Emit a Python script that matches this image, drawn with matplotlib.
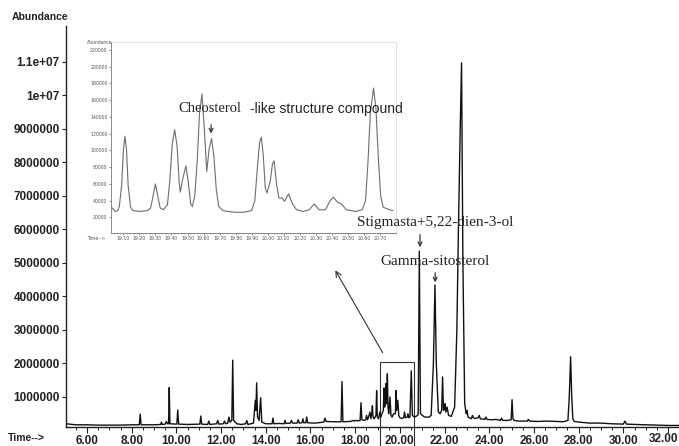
import matplotlib
matplotlib.use("Agg")
import matplotlib.pyplot as plt
from matplotlib.patches import Rectangle
from matplotlib.ticker import MultipleLocator, FixedLocator

# ---------------- data ----------------
# main total-ion chromatogram: retention time (min) / abundance
rt = [5.06, 5.5, 6.0, 6.5, 7.0, 7.5, 8.0,
      8.34, 8.38, 8.42, 9.0, 9.3, 9.33, 9.36, 9.5, 9.55, 9.6, 9.65, 9.68, 9.71,
      10.02, 10.06, 10.10, 10.5, 11.05, 11.09, 11.13, 11.4, 11.45, 11.5, 11.8, 11.85, 11.9,
      12.1, 12.15, 12.2, 12.3, 12.35, 12.4, 12.48, 12.52, 12.56, 12.7, 12.9, 13.1, 13.15, 13.2,
      13.45, 13.53, 13.56, 13.59, 13.63, 13.7, 13.77, 13.82, 14.0, 14.28, 14.32, 14.36, 14.6,
      14.82, 14.86, 14.9, 15.1, 15.15, 15.2, 15.4, 15.45, 15.5, 15.62, 15.66, 15.7, 15.79, 15.83, 15.87,
      16.2, 16.6, 16.65, 16.7, 17.0, 17.37, 17.41, 17.45, 17.8, 17.9, 17.95, 18.0, 18.1,
      18.22, 18.26, 18.3, 18.4, 18.47, 18.51, 18.55, 18.6, 18.66, 18.7, 18.74, 18.77, 18.8, 18.85,
      18.93, 18.96, 18.99, 19.05, 19.1, 19.15, 19.2, 19.26, 19.29, 19.32, 19.35, 19.38, 19.41,
      19.44, 19.47, 19.5, 19.56, 19.6, 19.65, 19.72, 19.8, 19.83, 19.86, 19.91, 19.95, 20.0,
      20.1, 20.17, 20.21, 20.25, 20.33, 20.36, 20.4, 20.45, 20.51, 20.56, 20.65, 20.8,
      20.82, 20.87, 20.92, 21.1, 21.3, 21.4, 21.5, 21.57, 21.63, 21.72, 21.8, 21.87, 21.91, 21.95,
      22.0, 22.02, 22.06, 22.11, 22.18, 22.3, 22.45, 22.55, 22.62, 22.7, 22.76, 22.82, 22.9,
      22.97, 23.0, 23.05, 23.2, 23.25, 23.29, 23.35, 23.5, 23.55, 23.6, 23.8, 23.85, 23.9,
      24.1, 24.3, 24.5, 24.55, 24.6, 24.8, 24.98, 25.02, 25.06, 25.12, 25.3, 25.7, 25.75, 25.8,
      26.2, 26.5, 27.0, 27.3, 27.52, 27.58, 27.64, 27.69, 27.74, 27.8, 28.0, 28.5, 29.0,
      29.5, 30.0, 30.07, 30.14, 30.5, 31.0, 31.5, 32.0, 32.5]
abundance = [0.20e6, 0.17e6, 0.17e6, 0.16e6, 0.16e6, 0.16e6, 0.17e6,
             0.17e6, 0.49e6, 0.17e6, 0.17e6, 0.18e6, 0.25e6, 0.18e6, 0.19e6, 0.27e6, 0.20e6, 0.20e6, 1.28e6, 0.20e6,
             0.19e6, 0.61e6, 0.19e6, 0.18e6, 0.19e6, 0.43e6, 0.19e6, 0.18e6, 0.28e6, 0.18e6, 0.20e6, 0.30e6, 0.19e6,
             0.20e6, 0.28e6, 0.20e6, 0.22e6, 0.40e6, 0.25e6, 0.30e6, 2.10e6, 0.30e6, 0.20e6, 0.18e6, 0.20e6, 0.30e6, 0.18e6,
             0.22e6, 0.90e6, 0.60e6, 1.42e6, 0.40e6, 0.30e6, 0.98e6, 0.25e6, 0.20e6, 0.20e6, 0.37e6, 0.20e6, 0.21e6,
             0.20e6, 0.30e6, 0.21e6, 0.22e6, 0.30e6, 0.22e6, 0.22e6, 0.32e6, 0.22e6, 0.23e6, 0.35e6, 0.23e6, 0.23e6, 0.40e6, 0.23e6,
             0.22e6, 0.25e6, 0.37e6, 0.27e6, 0.26e6, 0.26e6, 1.46e6, 0.26e6, 0.27e6, 0.30e6, 0.28e6, 0.30e6, 0.29e6,
             0.30e6, 0.83e6, 0.32e6, 0.30e6, 0.32e6, 0.45e6, 0.32e6, 0.40e6, 0.55e6, 0.35e6, 0.50e6, 0.74e6, 0.40e6, 0.35e6,
             0.45e6, 1.19e6, 0.40e6, 0.35e6, 0.55e6, 0.40e6, 0.50e6, 0.60e6, 1.27e6, 0.70e6, 0.90e6, 1.40e6, 0.80e6,
             1.69e6, 0.70e6, 0.50e6, 1.00e6, 0.45e6, 0.40e6, 0.50e6, 0.50e6, 1.19e6, 0.60e6, 0.90e6, 0.45e6, 0.38e6,
             0.36e6, 0.38e6, 0.55e6, 0.38e6, 0.40e6, 0.50e6, 0.38e6, 0.40e6, 1.78e6, 0.45e6, 0.40e6, 0.45e6,
             0.50e6, 5.35e6, 0.50e6, 0.40e6, 0.40e6, 0.45e6, 2.00e6, 4.34e6, 2.00e6, 0.55e6, 0.50e6, 0.60e6, 1.60e6, 0.60e6,
             0.65e6, 0.80e6, 0.55e6, 0.70e6, 0.45e6, 0.42e6, 0.70e6, 3.00e6, 6.00e6, 9.00e6, 10.97e6, 5.00e6, 0.80e6,
             0.50e6, 0.60e6, 0.40e6, 0.35e6, 0.45e6, 0.38e6, 0.36e6, 0.38e6, 0.45e6, 0.35e6, 0.33e6, 0.40e6, 0.33e6,
             0.32e6, 0.33e6, 0.30e6, 0.37e6, 0.30e6, 0.30e6, 0.32e6, 0.92e6, 0.35e6, 0.30e6, 0.28e6, 0.28e6, 0.33e6, 0.28e6,
             0.27e6, 0.28e6, 0.27e6, 0.26e6, 0.30e6, 1.00e6, 2.20e6, 1.00e6, 0.35e6, 0.27e6, 0.25e6, 0.22e6, 0.22e6,
             0.20e6, 0.19e6, 0.28e6, 0.19e6, 0.18e6, 0.17e6, 0.16e6, 0.15e6, 0.15e6]

y_tick_values = [1e6, 2e6, 3e6, 4e6, 5e6, 6e6, 7e6, 8e6, 9e6, 1e7, 1.1e7]
y_tick_labels = ["1000000", "2000000", "3000000", "4000000", "5000000", "6000000",
                 "7000000", "8000000", "9000000", "1e+07", "1.1e+07"]
x_tick_values = [6, 8, 10, 12, 14, 16, 18, 20, 22, 24, 26, 28, 30, 32]

# inset (zoom of 19.1-20.7 min)
rt_inset = [19.03, 19.05, 19.065, 19.075, 19.09, 19.10, 19.11, 19.12, 19.13, 19.145,
            19.16, 19.2, 19.25, 19.27, 19.285, 19.30, 19.315, 19.33, 19.35, 19.375,
            19.39, 19.405, 19.42, 19.435, 19.448, 19.455, 19.47, 19.49, 19.505, 19.52,
            19.53, 19.545, 19.56, 19.575, 19.59, 19.605, 19.62, 19.635, 19.65, 19.665,
            19.68, 19.695, 19.72, 19.75, 19.8, 19.85, 19.9, 19.92, 19.935, 19.95,
            19.96, 19.972, 19.985, 19.995, 20.015, 20.03, 20.04, 20.055, 20.07, 20.09,
            20.105, 20.13, 20.155, 20.18, 20.22, 20.26, 20.29, 20.32, 20.36, 20.39,
            20.41, 20.435, 20.46, 20.49, 20.55, 20.59, 20.61, 20.625, 20.64, 20.66,
            20.675, 20.69, 20.705, 20.72, 20.76, 20.78]
abundance_inset = [31000, 27000, 28000, 33000, 60000, 100000, 117000, 100000, 58000, 32000,
                   28000, 27000, 28000, 31000, 45000, 60000, 45000, 31000, 29000, 35000,
                   65000, 108000, 124600, 105000, 62000, 50000, 66000, 81400, 62000, 36000,
                   33000, 45000, 85000, 145000, 167300, 125000, 74600, 102000, 114100, 92000,
                   52000, 33000, 28000, 27000, 26000, 26000, 28000, 40000, 78000, 110000,
                   115800, 95000, 55000, 49000, 62000, 84000, 87400, 60000, 43000, 43000,
                   39000, 48000, 36000, 29000, 27000, 29000, 36000, 29000, 29000, 40000,
                   44000, 38000, 36000, 29000, 27000, 29000, 40000, 85000, 145000, 174500,
                   150000, 90000, 45000, 32000, 29000, 28000]
inset_y_ticks = [20000, 40000, 60000, 80000, 100000, 120000, 140000, 160000, 180000, 200000, 220000]
inset_x_ticks = [19.1, 19.2, 19.3, 19.4, 19.5, 19.6, 19.7, 19.8, 19.9, 20.0,
                 20.1, 20.2, 20.3, 20.4, 20.5, 20.6, 20.7]

# zoom box and annotations
box_start, box_end, box_top = 19.11, 20.64, 2.04e6
stig_rt, stig_label = 20.90, "Stigmasta+5,22-dien-3-ol"
gamma_rt, gamma_label = 21.58, "Gamma-sitosterol"
chol_rt = 19.647

# ---------------- figure ----------------
W, H = 679, 446
fig = plt.figure(figsize=(W / 100, H / 100), dpi=100)
fig.patch.set_facecolor("white")

ax = fig.add_axes([66 / W, 19 / H, 613 / W, 401 / H])
ax.set_zorder(2)
ax.patch.set_visible(False)
ax.plot(rt, abundance, color="#111111", lw=1.0)
ax.set_xlim(5.06, 32.49)
ax.set_ylim(0.104e6, 12.07e6)
for s in ("top", "right"):
    ax.spines[s].set_visible(False)
for s in ("left", "bottom"):
    ax.spines[s].set_linewidth(1.0)
    ax.spines[s].set_color("#222222")

ax.yaxis.set_major_locator(FixedLocator(y_tick_values))
ax.set_yticklabels(y_tick_labels)
ax.xaxis.set_major_locator(FixedLocator(x_tick_values))
x_labels = [f"{v:.2f}" for v in x_tick_values]
ax.set_xticklabels(x_labels[:-1] + [""])
ax.xaxis.set_minor_locator(MultipleLocator(0.5))
ax.tick_params(axis="y", direction="out", length=3, width=0.8, pad=1.5,
               labelsize=8.5, colors="#222222")
ax.tick_params(axis="x", which="major", direction="out", length=4, width=0.8, pad=2,
               labelsize=8.5, colors="#222222")
ax.tick_params(axis="x", which="minor", direction="out", length=2.5, width=0.7, colors="#222222")
for lab in ax.get_xticklabels() + ax.get_yticklabels():
    lab.set_family("Liberation Sans")
    lab.set_fontweight("bold")
# last time label sits against the right edge of the picture
ax.annotate(x_labels[-1], xy=(x_tick_values[-1], 0), xycoords=("data", "axes fraction"),
            xytext=(7.5, -4.5), textcoords="offset points", ha="right", va="top",
            fontsize=8.5, family="Liberation Sans", fontweight="bold", color="#222222",
            annotation_clip=False)

fig.text(12 / W, 1 - 17 / H, "Abundance", fontsize=7.5, family="Liberation Sans",
         fontweight="bold", color="#222222", va="center", ha="left")
fig.text(8 / W, 1 - 438 / H, "Time-->", fontsize=7.5, family="Liberation Sans",
         fontweight="bold", color="#222222", va="center", ha="left")

# zoom box
ax.add_patch(Rectangle((box_start, -0.6e6), box_end - box_start, box_top + 0.6e6,
                       fill=False, edgecolor="#333333", lw=0.8, clip_on=False))
# arrow from box to inset
ax.annotate("", xy=(17.05, 4.85e6), xytext=(19.29, 2.25e6),
            arrowprops=dict(arrowstyle="->", color="#333333", lw=0.8, mutation_scale=10))

# peak annotations
ax.text(gamma_rt, 6.2e6, stig_label, family="Liberation Serif", fontsize=11,
        color="#222222", ha="center", va="center")
ax.annotate("", xy=(stig_rt, 5.39e6), xytext=(stig_rt, 5.93e6),
            arrowprops=dict(arrowstyle="->", color="#222222", lw=0.8, mutation_scale=7))
ax.text(gamma_rt, 5.04e6, gamma_label, family="Liberation Serif", fontsize=11,
        color="#222222", ha="center", va="center")
ax.annotate("", xy=(gamma_rt, 4.34e6), xytext=(gamma_rt, 4.79e6),
            arrowprops=dict(arrowstyle="->", color="#222222", lw=0.8, mutation_scale=7))

# ---------------- inset ----------------
axi = fig.add_axes([111 / W, (H - 233) / H, 285 / W, 191 / H])
axi.set_zorder(1)
axi.set_facecolor("white")
axi.plot(rt_inset, abundance_inset, color="#6e6e6e", lw=0.8)
axi.set_xlim(19.023, 20.80)
axi.set_ylim(1200, 229600)
for s in ("left", "bottom"):
    axi.spines[s].set_color("#8a8a8a")
    axi.spines[s].set_linewidth(0.7)
for s in ("top", "right"):
    axi.spines[s].set_color("#dddddd")
    axi.spines[s].set_linewidth(0.6)
axi.yaxis.set_major_locator(FixedLocator(inset_y_ticks))
axi.set_yticklabels([str(v) for v in inset_y_ticks])
axi.xaxis.set_major_locator(FixedLocator(inset_x_ticks))
axi.set_xticklabels([f"{v:.2f}" for v in inset_x_ticks])
axi.xaxis.set_minor_locator(MultipleLocator(0.02))
axi.tick_params(axis="both", which="major", direction="out", length=1.5, width=0.5,
                pad=1, labelsize=3.3, colors="#555555")
axi.tick_params(axis="x", which="minor", direction="out", length=1, width=0.4, colors="#777777")
fig.text(87 / W, 1 - 43 / H, "Abundance", fontsize=3.3, color="#555555", va="center", ha="left")
fig.text(87 / W, 1 - 238 / H, "Time-->", fontsize=3.3, color="#555555", va="center", ha="left")

axi.text(19.442, 149700, "Cheosterol", family="Liberation Serif", fontsize=10.5,
         color="#222222", ha="left", va="center")
axi.text(19.89, 149700, "-like structure compound", family="Liberation Sans", fontsize=10,
         color="#222222", ha="left", va="center", clip_on=False)
axi.annotate("", xy=(chol_rt, 117000), xytext=(chol_rt, 134000),
             arrowprops=dict(arrowstyle="->", color="#222222", lw=0.8, mutation_scale=7))

fig.savefig("out.png", dpi=100)
